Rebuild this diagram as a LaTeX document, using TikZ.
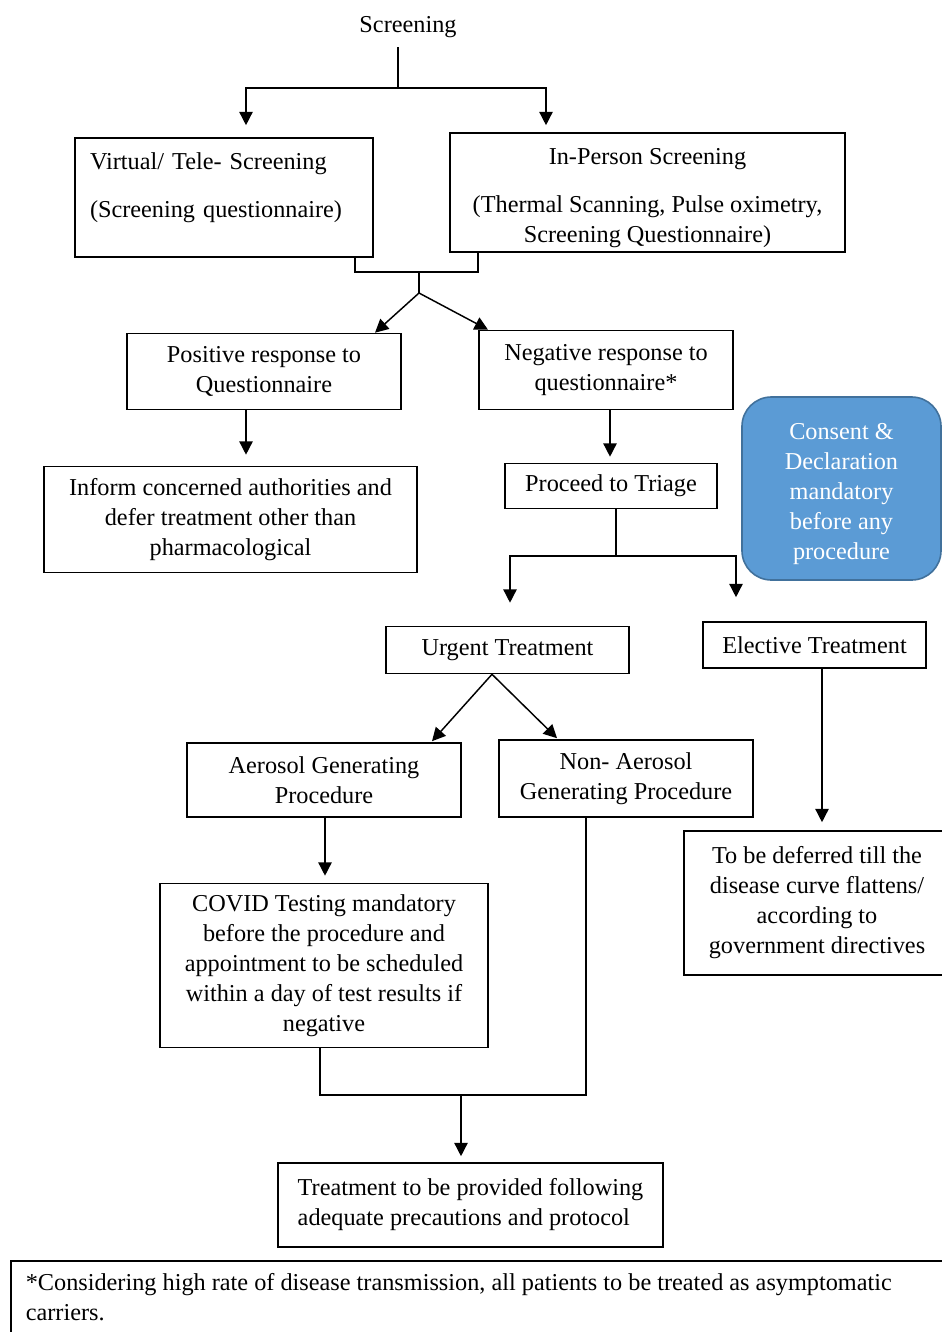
\documentclass[tikz,border=0pt]{standalone}
\usepackage{fontspec}
\setmainfont{Liberation Serif}
\usepackage{tikz}
\usetikzlibrary{arrows.meta,calc}
\definecolor{consentblue}{RGB}{91,155,213}
\definecolor{consentedge}{RGB}{65,113,156}

\begin{document}
\begin{tikzpicture}[
    x=0.75pt, y=-0.75pt,
    font=\fontsize{18.2}{22.5}\selectfont,
    box/.style={draw, line width=1.2pt, align=center, inner sep=0pt},
    sz/.style 2 args={minimum width=#1*0.75pt, minimum height=#2*0.75pt},
    notebox/.style={draw, rounded corners=22pt, fill=consentblue, draw=consentedge, line width=1.2pt, text=white, align=center, inner sep=0pt},
    arr/.style={-{Triangle[length=10pt,width=10pt]}, line width=1.1pt},
    link/.style={line width=1.1pt}
]
\clip (0,0) rectangle (942,1332);

% first row
\node (screening) at (408,27) {Screening};
\node[box, sz={298}{119}, align=left, text width=201pt, inner xsep=11.25pt, text depth=54pt] (virtual) at (224,197.5)
    {Virtual/ Tele- Screening\\[13pt](Screening questionnaire)};
\node[box, sz={395}{119}, text height=79.5pt] (inperson) at (647.5,192.5)
    {In-Person Screening\\[13.5pt](Thermal Scanning, Pulse oximetry,\\Screening Questionnaire)};

% questionnaire outcome
\node[box, sz={274}{76}] (positive) at (264,371.5) {Positive response to\\Questionnaire};
\node[box, sz={254}{79}] (negative) at (606,370) {Negative response to\\questionnaire*};
\node[box, sz={373}{106}] (inform) at (230.5,519.5) {Inform concerned authorities and\\defer treatment other than\\pharmacological};
\node[box, sz={212}{45}] (triage) at (611,486) {Proceed to Triage};
\node[notebox, sz={199}{183}, text height=110.5pt] (consent) at (841.5,488.5) {Consent \&\\Declaration\\mandatory\\before any\\procedure};

% treatment
\node[box, sz={243}{47}] (urgent) at (507.5,650) {Urgent Treatment};
\node[box, sz={223}{46}] (elective) at (814.5,645) {Elective Treatment};
\node[box, sz={274}{74}] (aerosol) at (324,780) {Aerosol Generating\\Procedure};
\node[box, sz={254}{77}] (nonaerosol) at (626,778.5) {Non- Aerosol\\Generating Procedure};
\node[box, sz={328}{164}] (covid) at (324,965.5) {COVID Testing mandatory\\before the procedure and\\appointment to be scheduled\\within a day of test results if\\negative};
\node[box, sz={266}{144}] (deferred) at (817,903) {To be deferred till the\\disease curve flattens/\\according to\\government directives};
\node[box, sz={385}{84}, align=flush left] (final) at (470.5,1205) {Treatment to be provided following\\adequate precautions and protocol};
\node[box, anchor=north west, sz={960}{0}, align=flush left, text width=697.5pt, inner xsep=11.25pt, inner ysep=9.75pt] (footnote) at (10,1260)
    {*Considering high rate of disease transmission, all patients to be treated as asymptomatic\\carriers.};

% fork points
\coordinate (scrstem) at (398,47);
\coordinate (scrfork) at (398,88);
\coordinate (sjoin) at (419,272);
\coordinate (sfork) at (419,293);
\coordinate (tfork) at (616,556);
\coordinate (cjoin) at (461,1095);

% connectors
\draw[link] (scrstem) -- (scrfork);
\draw[arr] (scrfork) -| ($(virtual.north)+(22,-12)$);
\draw[arr] (scrfork) -| ($(inperson.north)+(-101.5,-7)$);
\draw[link] ($(virtual.south)+(131,0)$) |- (sjoin) -| ($(inperson.south)+(-169.5,0)$);
\draw[link] (sjoin) -- (sfork);
\draw[arr] (sfork) -- ($(positive.north)+(111,0)$);
\draw[arr] (sfork) -- ($(negative.north)+(-118,0)$);
\draw[arr] ($(positive.south)+(-18,0)$) -- ($(inform.north)+(15.5,-11)$);
\draw[arr] ($(negative.south)+(4,0)$) -- ($(triage.north)+(-1,-6)$);
\draw[link] ($(triage.south)+(5,0)$) -- (tfork);
\draw[arr] (tfork) -| ($(urgent.north)+(2.5,-23)$);
\draw[arr] (tfork) -| ($(elective.north)+(-78.5,-24)$);
\draw[arr] ($(urgent.south)+(-15.5,0)$) -- ($(aerosol.north)+(108,-1)$);
\draw[arr] ($(urgent.south)+(-15.5,0)$) -- ($(nonaerosol.north)+(-69,-1)$);
\draw[arr] ($(aerosol.south)+(1,0)$) -- ($(covid.north)+(1,-7)$);
\draw[arr] ($(elective.south)+(7.5,0)$) -- ($(deferred.north)+(5,-8)$);
\draw[link] ($(covid.south)+(-4,0)$) |- (cjoin) -| ($(nonaerosol.south)+(-40,0)$);
\draw[arr] (cjoin) -- ($(final.north)+(-9.5,-6)$);

\end{tikzpicture}
\end{document}
